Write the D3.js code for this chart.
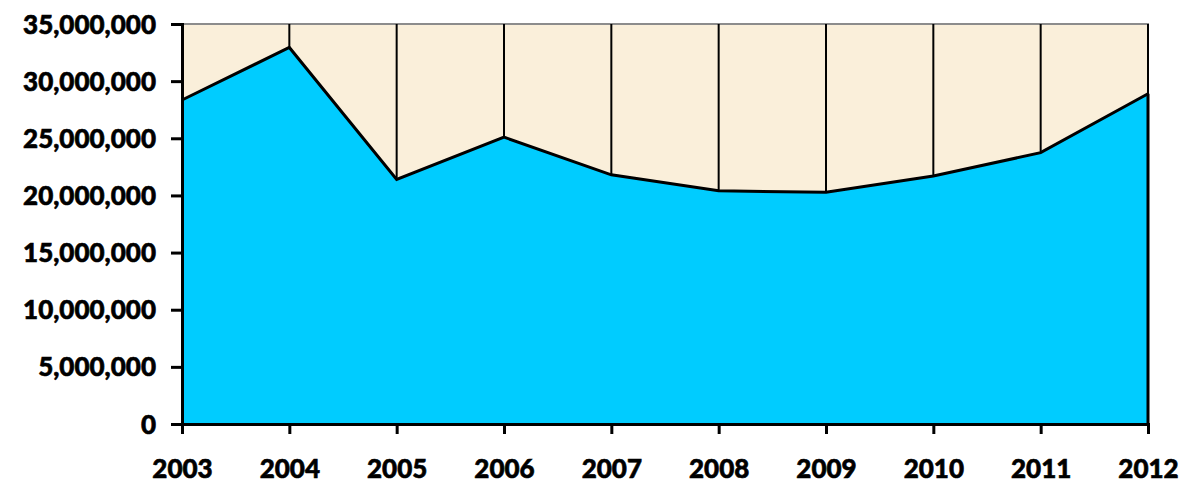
<!DOCTYPE html>
<html><head><meta charset="utf-8">
<script src="https://cdn.jsdelivr.net/npm/d3@7/dist/d3.min.js"></script>
<style>body{margin:0;background:#fff;} svg{display:block;} text{font-family:Lato,"Open Sans",sans-serif;font-weight:900;fill:#000;}</style>
</head><body><svg id="c" width="1188" height="487"></svg>
<script>
const years = ["2003","2004","2005","2006","2007","2008","2009","2010","2011","2012"];
const values = [28350000,32950000,21400000,25100000,21800000,20400000,20270000,21700000,23740000,28900000];
const yTicks = [0,5000000,10000000,15000000,20000000,25000000,30000000,35000000];

const m = {l:182, r:1148, t:24, b:424};
const svg = d3.select("#c");
const x = d3.scalePoint().domain(years).range([m.l, m.r]);
const y = d3.scaleLinear().domain([0,35000000]).range([m.b, m.t]);

svg.append("rect").attr("x",m.l).attr("y",m.t).attr("width",m.r-m.l).attr("height",m.b-m.t).attr("fill","#FAEFDA");
svg.append("rect").attr("x",m.l).attr("y",m.t).attr("width",m.r-m.l).attr("height",m.b-m.t)
  .attr("fill","none").attr("stroke","#8c8c8c").attr("stroke-width",2);
svg.append("g").selectAll("line").data(years.slice(1)).join("line")
  .attr("x1",d=>x(d)).attr("x2",d=>x(d)).attr("y1",m.t).attr("y2",m.b)
  .attr("stroke","#000").attr("stroke-width",2);

const area = d3.area().x((d,i)=>x(years[i])).y0(y(0)).y1(d=>y(d));
const line = d3.line().x((d,i)=>x(years[i])).y(d=>y(d));
svg.append("path").datum(values).attr("d",area).attr("fill","#00CCFF");
svg.append("path").datum(values).attr("d",line).attr("fill","none").attr("stroke","#000").attr("stroke-width",3).attr("stroke-linejoin","miter");
svg.append("line").attr("x1",m.r).attr("x2",m.r).attr("y1",y(values[values.length-1])).attr("y2",m.b).attr("stroke","#000").attr("stroke-width",3);

const ya = svg.append("g").attr("transform",`translate(${m.l},0)`)
  .call(d3.axisLeft(y).tickValues(yTicks).tickFormat(d3.format(",")).tickSize(11).tickPadding(15));
const xa = svg.append("g").attr("transform",`translate(0,${m.b})`)
  .call(d3.axisBottom(x).tickSize(10).tickPadding(26));
[ya,xa].forEach(g=>{
  g.select(".domain").attr("stroke","#000").attr("stroke-width",3);
  g.selectAll(".tick line").attr("stroke","#000").attr("stroke-width",3);
  g.selectAll("text").style("font-size","26px").style("font-family","Lato, 'Open Sans', sans-serif").style("font-weight","900")
    .attr("fill","#000").attr("stroke","#000").attr("stroke-width",0.6);
});
ya.selectAll("text").attr("dy","0.35em");
</script></body></html>
